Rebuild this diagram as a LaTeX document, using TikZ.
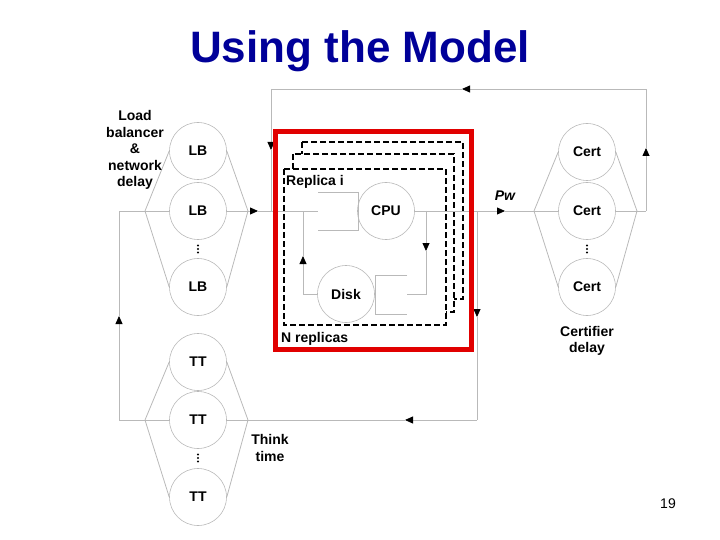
\documentclass[tikz,border=0pt]{standalone}
\usepackage{fontspec}
\setmainfont{Liberation Sans}
\usetikzlibrary{arrows.meta}
\definecolor{titleblue}{RGB}{0,0,153}
\definecolor{wire}{RGB}{185,185,185}
\definecolor{boxred}{RGB}{225,0,0}
\newcommand{\lblfont}{\fontsize{14}{16.5}\selectfont\bfseries}
\tikzset{
  wire/.style={draw=wire,line width=0.8pt},
  arrowed/.style={wire,-{Triangle[color=black,length=8pt,width=7pt]}},
  replica/.style={draw=black,fill=white,line width=2pt,dash pattern=on 6pt off 3pt},
  redbox/.style={draw=boxred,line width=5pt},
  dot/.style={circle,fill=black,inner sep=0pt,minimum size=2.2pt},
}
\begin{document}
\begin{tikzpicture}[x=1pt,y=-1pt]
\useasboundingbox (0,0) rectangle (720,540);
\node[anchor=base,text=titleblue,font=\fontsize{44}{50}\selectfont\bfseries] (title) at (360,63) {Using the Model};

% N replicas, back to front
\draw[replica] (302,142) rectangle (463,299);
\draw[replica] (293,154) rectangle (454,312);
\draw[replica] (284,169) rectangle (446,325);

% service centres
\begin{scope}[every node/.style={circle,draw=wire,line width=0.6pt,minimum size=57pt,inner sep=0pt,font=\lblfont}]
\node (lb1) at (198,151) {LB};
\node (lb2) at (198,211) {LB};
\node (lb3) at (198,287) {LB};
\node (tt1) at (198,362) {TT};
\node (tt2) at (198,420) {TT};
\node (tt3) at (198,497) {TT};
\node (cert1) at (587,152) {Cert};
\node (cert2) at (587,211) {Cert};
\node (cert3) at (587,287) {Cert};
\node (cpu) at (386,211) {CPU};
\node (disk) at (346,294) {Disk};
\end{scope}
% elided servers
\foreach \name/\x/\y in {lb/198/249, tt/198/458, cert/587/249} {
  \node[dot] (\name dotA) at (\x,\y-3.5) {};
  \node[dot] (\name dotB) at (\x,\y) {};
  \node[dot] (\name dotC) at (\x,\y+3.5) {};
}

% fork and join points
\coordinate (lbL) at (145,211);
\coordinate (lbR) at (248,211);
\coordinate (ttL) at (145,420);
\coordinate (ttR) at (248,420);
\coordinate (certL) at (534,211);
\coordinate (certR) at (637,211);
\coordinate (cpuq) at (318,211);
\coordinate (diskq) at (407,294);
\coordinate (loopR) at (646,211);
\coordinate (topR) at (646,89);
\coordinate (topL) at (271,89);
\coordinate (join) at (271,211);
\coordinate (forkD) at (426,211);
\coordinate (downD) at (426,294);
\coordinate (backD) at (303,294);
\coordinate (upD) at (303,211);
\coordinate (forkN) at (477,211);
\coordinate (botR) at (477,420);
\coordinate (botL) at (119,420);
\coordinate (upL) at (119,211);
% arrow heads
\coordinate (h1) at (258,211);
\coordinate (h2) at (646,148);
\coordinate (h3) at (462,89);
\coordinate (h4) at (271,150);
\coordinate (h5) at (505,211);
\coordinate (h6) at (426,251);
\coordinate (h7) at (303,256);
\coordinate (h8) at (477,317);
\coordinate (h9) at (405,420);
\coordinate (h10) at (119,316);

\begin{scope}[every edge/.style={wire}]
\path (lbL) edge (lb1.west) edge (lb2.west) edge (lb3.west);
\path (lbR) edge (lb1.east) edge (lb2.east) edge (lb3.east);
\path (ttL) edge (tt1.west) edge (tt2.west) edge (tt3.west);
\path (ttR) edge (tt1.east) edge (tt2.east) edge (tt3.east);
\path (certL) edge (cert1.west) edge (cert2.west) edge (cert3.west);
\path (certR) edge (cert1.east) edge (cert2.east) edge (cert3.east);
\end{scope}

% queues
\draw[wire] (318,192) -- (358,192) -- (358,230) -- (318,230);
\draw[wire] (407,275) -- (375,275) -- (375,314) -- (407,314);

% flow
\draw[arrowed] (lbR) -- (h1);
\draw[wire] (h1) -- (cpuq);
\draw[wire] (certR) -- (loopR);
\draw[arrowed] (loopR) -- (h2);
\draw[wire] (h2) -- (topR);
\draw[arrowed] (topR) -- (h3);
\draw[wire] (h3) -- (topL);
\draw[arrowed] (topL) -- (h4);
\draw[wire] (h4) -- (join);
\draw[arrowed] (cpu.east) -- (h5);
\draw[wire] (h5) -- (certL);
\draw[arrowed] (forkD) -- (h6);
\draw[wire] (h6) -- (downD) -- (diskq);
\draw[wire] (disk.west) -- (backD);
\draw[arrowed] (backD) -- (h7);
\draw[wire] (h7) -- (upD);
\draw[arrowed] (forkN) -- (h8);
\draw[wire] (h8) -- (botR);
\draw[arrowed] (botR) -- (h9);
\draw[wire] (h9) -- (ttR);
\draw[wire] (ttL) -- (botL);
\draw[arrowed] (botL) -- (h10);
\draw[wire] (h10) -- (upL) -- (lbL);

\draw[redbox] (275,132) rectangle (471,349);

% labels
\begin{scope}[every node/.style={align=center,inner sep=0pt,font=\lblfont}]
\node (lblabel) at (135,150) {Load\\balancer\\\&\\network\\delay};
\node (certlabel) at (587,341) {Certifier\\delay};
\node (ttlabel) at (270,448) {Think\\time};
\node[font=\lblfont\itshape] (pw) at (505,196) {Pw};
\node[anchor=west] (replabel) at (286,182) {Replica i};
\node[anchor=west] (nlabel) at (281,339) {N replicas};
\end{scope}
\node[font=\fontsize{14}{16}\selectfont] (page) at (668,504) {19};
\end{tikzpicture}
\end{document}
